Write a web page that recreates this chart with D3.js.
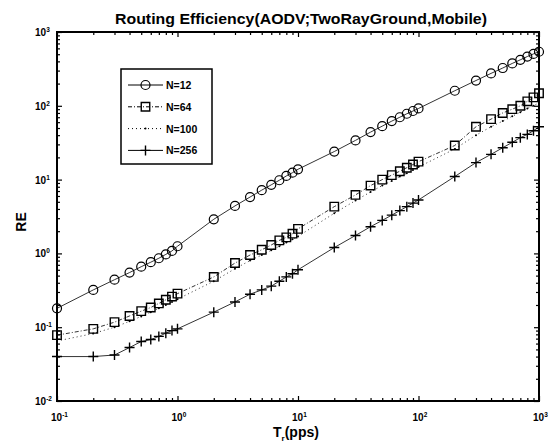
<!DOCTYPE html>
<html>
<head>
<meta charset="utf-8">
<script src="https://cdn.jsdelivr.net/npm/d3@7"></script>
<style>
  body { margin: 0; background: #fff; }
  text { font-family: "Liberation Sans", Arial, sans-serif; fill: #000; }
</style>
</head>
<body>
<script>
// Data
var rates = [0.1, 0.2, 0.3, 0.4, 0.5, 0.6, 0.7, 0.8, 0.9,
             1, 2, 3, 4, 5, 6, 7, 8, 9,
             10, 20, 30, 40, 50, 60, 70, 80, 90,
             100, 200, 300, 400, 500, 600, 700, 800, 900, 1000];

var n12 = [0.18, 0.32, 0.44, 0.55, 0.66, 0.76, 0.86, 0.97, 1.08,
           1.25, 2.9, 4.4, 5.8, 7.2, 8.5, 9.8, 11.2, 12.4,
           13.8, 24, 34, 44, 53, 62, 70, 78, 85,
           92, 160, 220, 275, 325, 375, 420, 465, 505, 540];

var n64 = [0.078, 0.095, 0.117, 0.142, 0.165, 0.185, 0.21, 0.235, 0.26,
           0.285, 0.48, 0.74, 0.95, 1.12, 1.3, 1.5, 1.65, 1.85,
           2.15, 4.3, 6.2, 8.3, 10, 11.5, 13, 14.5, 16,
           17.5, 29, 52, 66, 80, 90, 100, 115, 130, 148];

var n100 = [0.065, 0.082, 0.1, 0.12, 0.14, 0.16, 0.18, 0.2, 0.22,
            0.24, 0.42, 0.62, 0.8, 0.95, 1.1, 1.25, 1.4, 1.55,
            1.7, 3.5, 5.2, 6.8, 8.3, 9.6, 11, 12.2, 13.5,
            14.8, 26, 40, 52, 62, 72, 82, 92, 100, 110];

var n256 = [0.04, 0.04, 0.042, 0.053, 0.064, 0.068, 0.075, 0.083, 0.09,
            0.095, 0.16, 0.22, 0.28, 0.32, 0.36, 0.42, 0.48, 0.53,
            0.6, 1.2, 1.75, 2.3, 2.8, 3.3, 3.8, 4.3, 4.8,
            5.3, 11, 17, 22, 27, 32, 37, 41, 46, 52];

var seriesNames = ["N=12", "N=64", "N=100", "N=256"];
var xExponents = [-1, 0, 1, 2, 3];
var yExponents = [-2, -1, 0, 1, 2, 3];

var W = 550, H = 444;
var pLeft = 57, pRight = 539, pTop = 32, pBottom = 401;

var svg = d3.select("body").append("svg")
    .attr("width", W)
    .attr("height", H);

var x = d3.scaleLog().domain([0.1, 1000]).range([pLeft, pRight]);
var y = d3.scaleLog().domain([0.01, 1000]).range([pBottom, pTop]);

// tick positions
var xMajor = xExponents.map(function(e) { return Math.pow(10, e); });
var yMajor = yExponents.map(function(e) { return Math.pow(10, e); });
function minors(majors) {
  var out = [];
  majors.slice(0, -1).forEach(function(m) {
    for (var k = 2; k <= 9; k++) out.push(m * k);
  });
  return out;
}
var xMinor = minors(xMajor), yMinor = minors(yMajor);

function drawAxis(axis, tr) {
  var g = svg.append("g").attr("transform", tr).call(axis);
  g.select(".domain").remove();
  g.selectAll(".tick line").attr("stroke", "#000").attr("stroke-width", 1.2);
}

// inward ticks on all four sides
drawAxis(d3.axisBottom(x).tickValues(xMinor).tickSize(-3).tickFormat(""), "translate(0," + pBottom + ")");
drawAxis(d3.axisBottom(x).tickValues(xMajor).tickSize(-5).tickFormat(""), "translate(0," + pBottom + ")");
drawAxis(d3.axisTop(x).tickValues(xMinor).tickSize(-3).tickFormat(""), "translate(0," + pTop + ")");
drawAxis(d3.axisTop(x).tickValues(xMajor).tickSize(-5).tickFormat(""), "translate(0," + pTop + ")");
drawAxis(d3.axisLeft(y).tickValues(yMinor).tickSize(-3).tickFormat(""), "translate(" + pLeft + ",0)");
drawAxis(d3.axisLeft(y).tickValues(yMajor).tickSize(-5).tickFormat(""), "translate(" + pLeft + ",0)");
drawAxis(d3.axisRight(y).tickValues(yMinor).tickSize(-3).tickFormat(""), "translate(" + pRight + ",0)");
drawAxis(d3.axisRight(y).tickValues(yMajor).tickSize(-5).tickFormat(""), "translate(" + pRight + ",0)");

// frame
svg.append("rect")
    .attr("x", pLeft).attr("y", pTop)
    .attr("width", pRight - pLeft).attr("height", pBottom - pTop)
    .attr("fill", "none").attr("stroke", "#000").attr("stroke-width", 2);

// tick labels 10^e
function powLabel(sel, e) {
  sel.append("tspan").text("10");
  sel.append("tspan").attr("dy", -4).attr("font-size", 6.5).text(e);
}
xExponents.forEach(function(e) {
  var t = svg.append("text")
      .attr("x", x(Math.pow(10, e)) - 6)
      .attr("y", pBottom + 20)
      .attr("font-size", 10).attr("font-weight", "bold");
  powLabel(t, e);
});
yExponents.forEach(function(e) {
  var t = svg.append("text")
      .attr("x", 35)
      .attr("y", y(Math.pow(10, e)) + 4)
      .attr("font-size", 10).attr("font-weight", "bold");
  powLabel(t, e);
});

// titles
svg.append("text")
    .attr("x", 115).attr("y", 24)
    .attr("textLength", 372).attr("lengthAdjust", "spacingAndGlyphs")
    .attr("font-size", 14.5).attr("font-weight", "bold")
    .text("Routing Efficiency(AODV;TwoRayGround,Mobile)");

var xl = svg.append("text")
    .attr("x", 273).attr("y", 437)
    .attr("font-size", 14).attr("font-weight", "bold");
xl.append("tspan").text("T");
xl.append("tspan").attr("dy", 4).attr("font-size", 8).text("r");
xl.append("tspan").attr("dy", -4).text("(pps)");

svg.append("text")
    .attr("transform", "translate(26,222) rotate(-90)")
    .attr("text-anchor", "middle")
    .attr("font-family", "'Liberation Serif', 'DejaVu Serif', serif")
    .attr("font-size", 14).attr("font-weight", "bold")
    .text("RE");

// series
var series = [
  { name: seriesNames[0], values: n12, dash: null, marker: "circle" },
  { name: seriesNames[1], values: n64, dash: "4,2,1,2", marker: "square" },
  { name: seriesNames[2], values: n100, dash: "1,3", marker: "dot" },
  { name: seriesNames[3], values: n256, dash: null, marker: "plus" }
];

var line = d3.line()
    .x(function(d) { return x(d[0]); })
    .y(function(d) { return y(d[1]); });

function drawMarker(g, kind) {
  if (kind === "circle") {
    g.append("circle").attr("r", 4.5).attr("fill", "none").attr("stroke", "#000").attr("stroke-width", 1.2);
  } else if (kind === "square") {
    g.append("path").attr("d", d3.symbol().type(d3.symbolSquare).size(72)())
      .attr("fill", "none").attr("stroke", "#000").attr("stroke-width", 1.4);
  } else if (kind === "dot") {
    g.append("circle").attr("r", 1).attr("fill", "#000");
  } else {
    g.append("path").attr("d", "M-5,0H5M0,-5V5")
      .attr("stroke", "#000").attr("stroke-width", 1.4);
  }
}

series.forEach(function(s) {
  var pts = rates.map(function(r, i) { return [r, s.values[i]]; });
  svg.append("path")
      .datum(pts)
      .attr("d", line)
      .attr("fill", "none")
      .attr("stroke", "#000")
      .attr("stroke-width", 0.8)
      .attr("stroke-dasharray", s.dash);
  svg.append("g").selectAll("g")
      .data(pts)
      .enter().append("g")
      .attr("transform", function(d) { return "translate(" + x(d[0]) + "," + y(d[1]) + ")"; })
      .each(function() { drawMarker(d3.select(this), s.marker); });
});

// legend
var lg = svg.append("g");
lg.append("rect")
    .attr("x", 121).attr("y", 69).attr("width", 91).attr("height", 95)
    .attr("fill", "#fff").attr("stroke", "#000").attr("stroke-width", 1.5);
series.forEach(function(s, i) {
  var ly = 85 + i * 21.8;
  lg.append("line")
      .attr("x1", 128).attr("x2", 163).attr("y1", ly).attr("y2", ly)
      .attr("stroke", "#000").attr("stroke-width", 1)
      .attr("stroke-dasharray", s.dash);
  drawMarker(lg.append("g").attr("transform", "translate(145.5," + ly + ")"), s.marker);
  lg.append("text")
      .attr("x", 166).attr("y", ly + 4)
      .attr("font-size", 10.5).attr("font-weight", "bold")
      .text(s.name);
});
</script>
</body>
</html>
